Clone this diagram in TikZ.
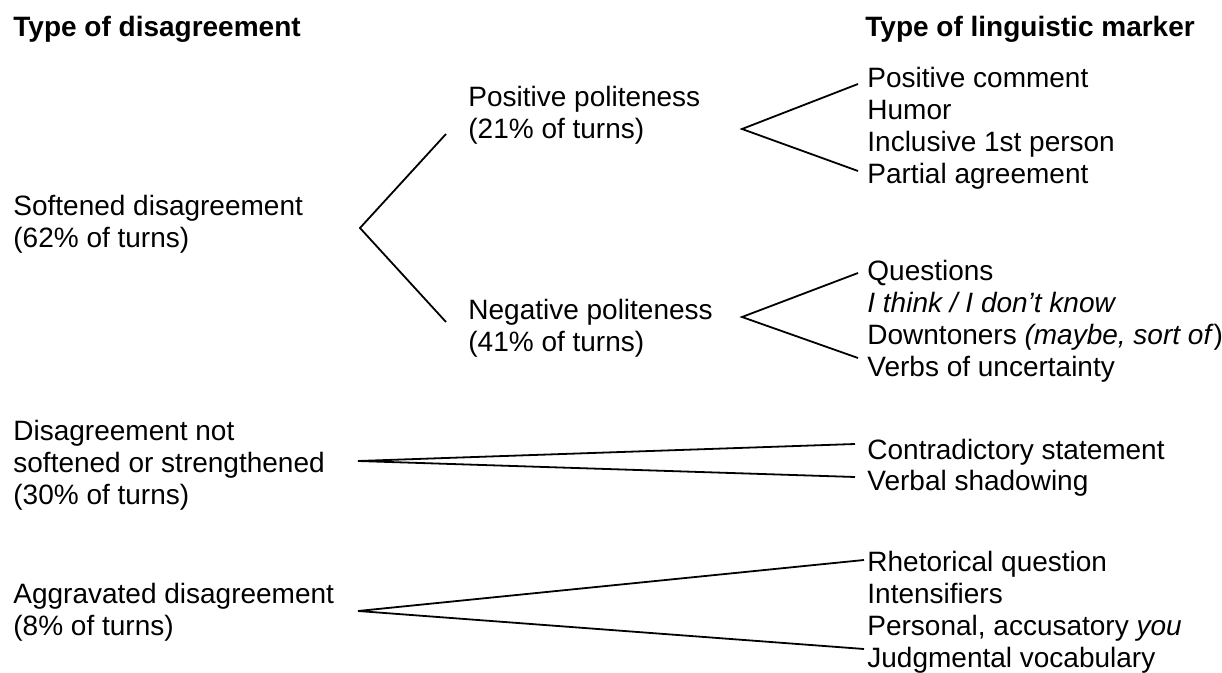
\documentclass[tikz,border=0pt]{standalone}
\usepackage{fontspec}
\setmainfont{Liberation Sans}
\usetikzlibrary{calc}
\begin{document}
\begin{tikzpicture}[x=0.5pt,y=-0.5pt,
  txt/.style={anchor=base west, inner sep=0pt, font=\fontsize{14}{16}\selectfont},
  hdr/.style={txt, font=\fontsize{14}{16}\selectfont\bfseries},
  conn/.style={line width=0.9pt, line join=miter}]
\useasboundingbox (0,0) rectangle (1222,673);

% headers
\node[hdr] (h1) at (13,37) {Type of disagreement};
\node[hdr] (h2) at (865,37) {Type of linguistic marker};

% left column
\node[txt] (soft) at (13,216) {\begin{tabular}[t]{@{}l@{}}Softened disagreement\\(62\% of turns)\end{tabular}};
\node[txt] (neut) at (13,441) {\begin{tabular}[t]{@{}l@{}}Disagreement not\\softened or strengthened\\(30\% of turns)\end{tabular}};
\node[txt] (aggr) at (13,604) {\begin{tabular}[t]{@{}l@{}}Aggravated disagreement\\(8\% of turns)\end{tabular}};

% middle column
\node[txt] (pos) at (468,107) {\begin{tabular}[t]{@{}l@{}}Positive politeness\\(21\% of turns)\end{tabular}};
\node[txt] (neg) at (468,320) {\begin{tabular}[t]{@{}l@{}}Negative politeness\\(41\% of turns)\end{tabular}};

% right column
\node[txt] (pc)  at (867,88)  {Positive comment};
\node[txt] (hu)  at (867,120) {Humor};
\node[txt] (inc) at (867,152) {Inclusive 1st person};
\node[txt] (pa)  at (867,184) {Partial agreement};

\node[txt] (q)   at (867,281) {Questions};
\node[txt] (it)  at (867,313) {\itshape I think / I don’t know};
\node[txt] (dt)  at (867,345) {Downtoners \textit{(maybe, sort of}{)}};
\node[txt] (vu)  at (867,377) {Verbs of uncertainty};

\node[txt] (cs)  at (867,460) {Contradictory statement};
\node[txt] (vs)  at (867,491) {Verbal shadowing};

\node[txt] (rq)  at (867,572) {Rhetorical question};
\node[txt] (in)  at (867,604) {Intensifiers};
\node[txt] (pe)  at (867,636) {Personal, accusatory \textit{you}};
\node[txt] (ju)  at (867,668) {Judgmental vocabulary};

% fork points
\coordinate (asoft) at (360,228);
\coordinate (apos)  at (742,129);
\coordinate (aneg)  at (742,317);
\coordinate (aneut) at (358,461);
\coordinate (aaggr) at (358,611);

% connectors
\draw[conn] ($(pos.base west)+(-22,27)$) -- (asoft) -- ($(neg.base west)+(-22,2)$);
\draw[conn] ($(pc.base west)+(-9,-4)$) -- (apos) -- ($(pa.base west)+(-9,-13)$);
\draw[conn] ($(q.base west)+(-9,-8)$) -- (aneg) -- ($(vu.base west)+(-9,-19)$);
\draw[conn] ($(cs.base west)+(-12,-16)$) -- (aneut) -- ($(vs.base west)+(-12,-14)$);
\draw[conn] ($(rq.base west)+(-3,-12)$) -- (aaggr) -- ($(ju.base west)+(-3,-19)$);
\end{tikzpicture}
\end{document}
